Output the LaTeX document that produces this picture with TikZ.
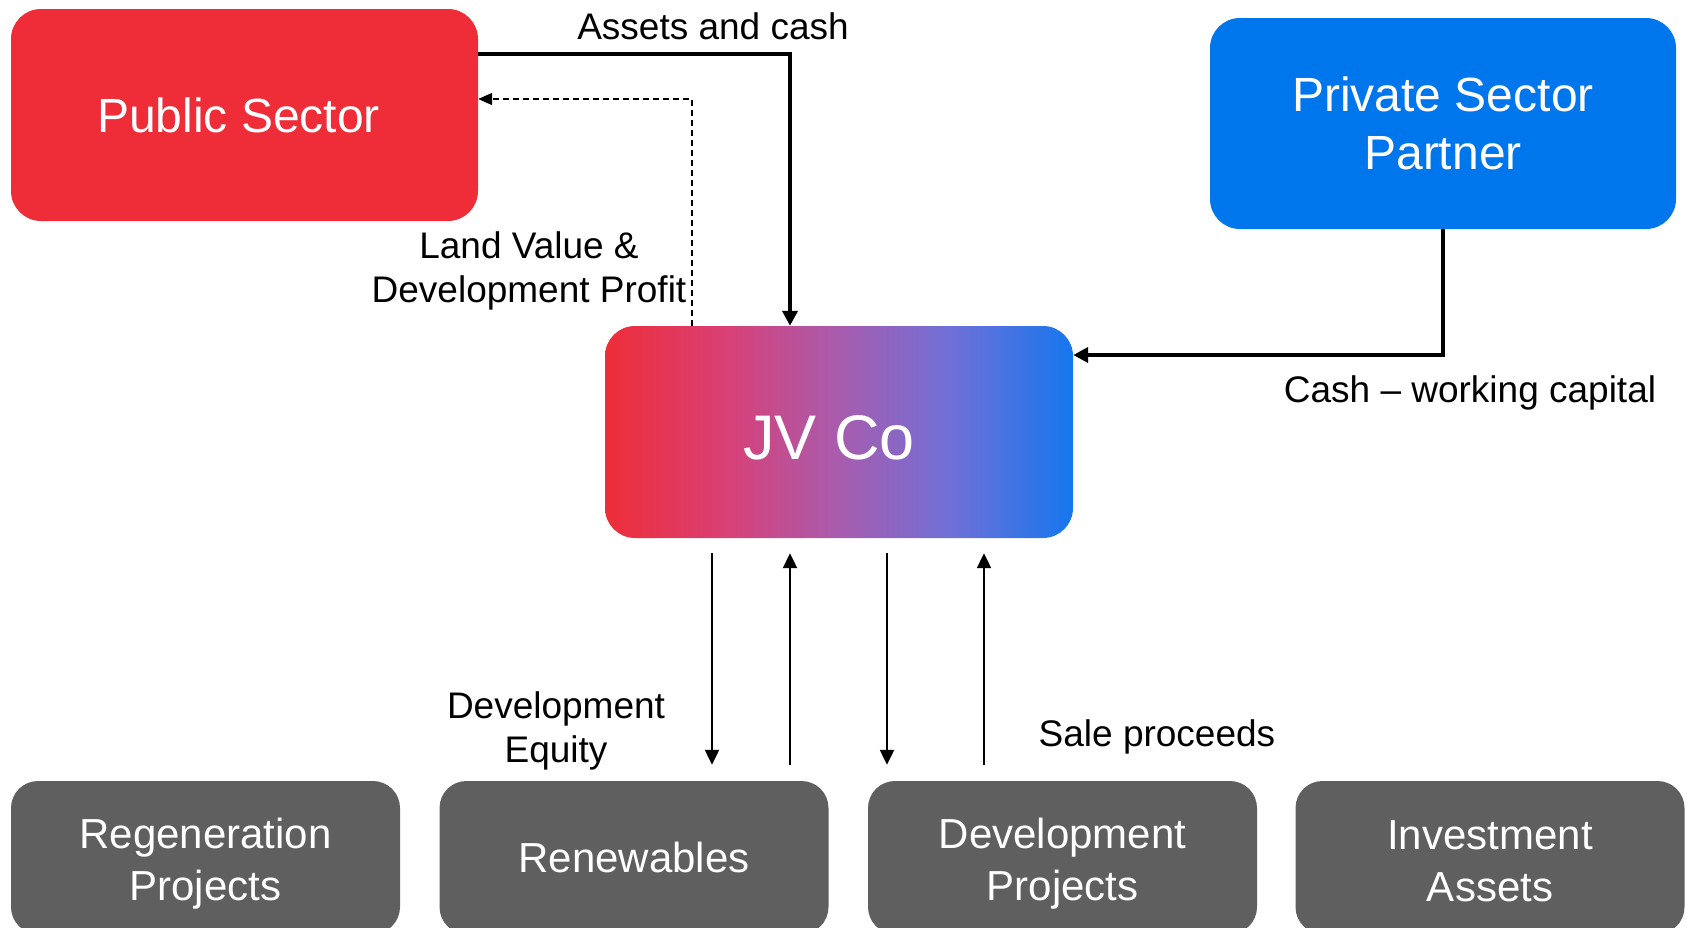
\documentclass[tikz,border=0pt]{standalone}
\usepackage{fontspec}
\setmainfont{Liberation Sans}
\usetikzlibrary{arrows.meta}

\definecolor{pubred}{HTML}{EE2D38}
\definecolor{privblue}{HTML}{0076EC}
\definecolor{projgray}{HTML}{5F5F5F}
\definecolor{jvA}{HTML}{EE2D38}
\definecolor{jvB}{HTML}{DA3F74}
\definecolor{jvC}{HTML}{A85CAE}
\definecolor{jvD}{HTML}{6C70D9}
\definecolor{jvE}{HTML}{1577EE}

% red-to-blue blend for the joint venture box
\pgfdeclarehorizontalshading{jvgrad}{100bp}{color(0bp)=(jvA); color(25bp)=(jvA); color(37.5bp)=(jvB); color(50bp)=(jvC); color(62.5bp)=(jvD); color(75bp)=(jvE); color(100bp)=(jvE)}

% invisible strut that lowers a centred caption a little
\newcommand{\capstrut}[1]{\rule{0pt}{#1}}

\begin{document}
\begin{tikzpicture}[x=1pt,y=-1pt,
  box/.style={rounded corners=30pt, inner sep=0pt, text=white, align=center,
    font=\fontsize{48}{57.6}\selectfont},
  pubbox/.style={box, fill=pubred, minimum width=467pt, minimum height=212pt},
  privbox/.style={box, fill=privblue, minimum width=466pt, minimum height=211pt},
  jvbox/.style={box, shade, shading=jvgrad, minimum width=468pt, minimum height=212pt,
    font=\fontsize{63}{75}\selectfont},
  projbox/.style={box, fill=projgray, rounded corners=27pt, minimum width=389pt,
    minimum height=153pt, font=\fontsize{42}{52}\selectfont},
  flowlabel/.style={font=\fontsize{37}{44.4}\selectfont, align=center, inner sep=0pt},
  mainflow/.style={line width=4.5pt, -{Triangle[length=15pt,width=15pt]}},
  minorflow/.style={line width=2.2pt, -{Triangle[length=15pt,width=14pt]}},
  returnflow/.style={line width=1.5pt, dash pattern=on 6pt off 4pt,
    -{Triangle[length=14pt,width=12pt]}}]

\useasboundingbox (0,0) rectangle (1687,927);

% parties
\node[pubbox] (pub) at (244.5,115) {Public Sector\hspace*{12pt}};
\node[privbox] (priv) at (1443,123.5) {Private Sector\\Partner};
\node[jvbox] (jv) at (839,432) {\capstrut{55pt}JV Co\hspace*{20pt}};

% project streams
\node[projbox] (regen) at (205.5,857.5) {\capstrut{42pt}Regeneration\\Projects};
\node[projbox] (renew) at (634,857.5) {Renewables};
\node[projbox] (devp) at (1062.5,857.5) {\capstrut{42pt}Development\\Projects};
\node[projbox] (invest) at (1490,857.5) {\capstrut{37pt}Investment\\Assets};

% routing helpers
\coordinate (yA) at (0,54);
\coordinate (xA) at (790,0);
\coordinate (xD) at (692,0);
\coordinate (yD) at (0,99);
\coordinate (yP) at (0,355);
\coordinate (c1) at (712,0);
\coordinate (c2) at (790,0);
\coordinate (c3) at (887,0);
\coordinate (c4) at (984,0);

% flows between the parties
\draw[mainflow] (pub.east |- yA) -| (jv.north -| xA);
\draw[returnflow] (jv.north -| xD) |- (pub.east |- yD);
\draw[mainflow] (priv.south) |- (jv.east |- yP);

% flows to and from the projects
\draw[minorflow, shorten <=15pt, shorten >=16pt] (jv.south -| c1) -- (renew.north -| c1);
\draw[minorflow, shorten <=16pt, shorten >=15pt] (renew.north -| c2) -- (jv.south -| c2);
\draw[minorflow, shorten <=15pt, shorten >=16pt] (jv.south -| c3) -- (devp.north -| c3);
\draw[minorflow, shorten <=16pt, shorten >=15pt] (devp.north -| c4) -- (jv.south -| c4);

% flow labels
\node[flowlabel, anchor=base] (lblassets) at (713,39) {Assets and cash};
\node[flowlabel] (lblland) at (529,271) {Land Value \&\\Development Profit};
\node[flowlabel, anchor=base] (lblcash) at (1470,402) {Cash \textendash{} working capital};
\node[flowlabel] (lbleq) at (556,731) {Development\\Equity};
\node[flowlabel, anchor=base] (lblsale) at (1157,746) {Sale proceeds};
\end{tikzpicture}
\end{document}
